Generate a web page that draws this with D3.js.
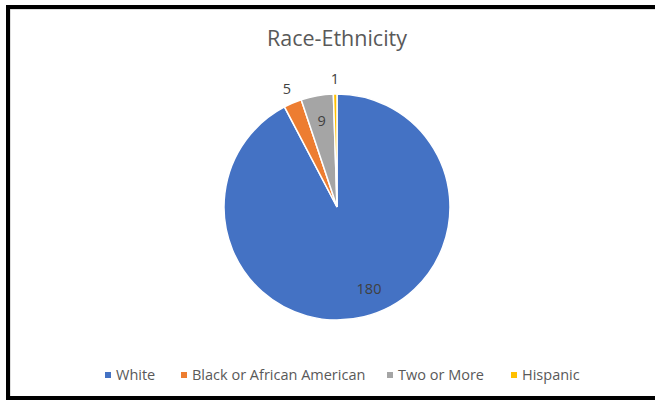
<!DOCTYPE html>
<html>
<head>
<meta charset="utf-8">
<script src="https://cdn.jsdelivr.net/npm/d3@7"></script>
<style>
  body { margin: 0; background: #fff; }
  text { font-family: "Open Sans", "Noto Sans", sans-serif; }
</style>
</head>
<body>
<div id="chart"></div>
<script>
let categories = ["White", "Black or African American", "Two or More", "Hispanic"];
let values = [180, 5, 9, 1];
let colors = ["#4472C4", "#ED7D31", "#A5A5A5", "#FFC000"];

let width = 655, height = 400;
let cx = 337, cy = 207, radius = 113;

let svg = d3.select("#chart").append("svg")
  .attr("width", width)
  .attr("height", height);

// chart frame
svg.append("rect")
  .attr("x", 10).attr("y", 9)
  .attr("width", 660).attr("height", 388)
  .style("fill", "none").style("stroke", "#bfbfbf").style("stroke-width", 1);
svg.append("rect")
  .attr("x", 8).attr("y", 7)
  .attr("width", 660).attr("height", 391)
  .style("fill", "none").style("stroke", "#000").style("stroke-width", 4);

svg.append("text")
  .attr("x", 337).attr("y", 46)
  .attr("text-anchor", "middle")
  .style("font-size", "21.5px")
  .style("fill", "#595959")
  .text("Race-Ethnicity");

let data = categories.map(function (c, i) {
  return { name: c, value: values[i], color: colors[i] };
});

let pie = d3.pie().sort(null).value(function (d) { return d.value; });
let arc = d3.arc().innerRadius(0).outerRadius(radius);
let arcs = pie(data);

let g = svg.append("g").attr("transform", "translate(" + cx + "," + cy + ")");

g.selectAll("path")
  .data(arcs)
  .enter()
  .append("path")
  .attr("d", arc)
  .style("fill", function (d) { return d.data.color; })
  .style("stroke", "#fff")
  .style("stroke-width", 1.5);

// labels: bigger slices inside, tiny ones just outside the rim
function labelPos(d) {
  let mid = (d.startAngle + d.endAngle) / 2;
  let r;
  if (d.data.value > 100) { r = radius * 0.78; mid -= 0.13; }
  else if (d.data.value >= 9) r = radius * 0.77;
  else r = radius + 15;
  return [Math.sin(mid) * r, -Math.cos(mid) * r];
}

g.selectAll("text.lbl")
  .data(arcs)
  .enter()
  .append("text")
  .attr("class", "lbl")
  .attr("x", function (d) { return labelPos(d)[0]; })
  .attr("y", function (d) { return labelPos(d)[1]; })
  .attr("dy", "0.35em")
  .attr("text-anchor", "middle")
  .style("font-size", "14.5px")
  .style("fill", "#404040")
  .text(function (d) { return d.data.value; });

// legend
let legendX = [105, 181, 387, 511];
let legend = svg.selectAll("g.leg")
  .data(data)
  .enter()
  .append("g")
  .attr("class", "leg")
  .attr("transform", function (d, i) { return "translate(" + legendX[i] + ",375)"; });

legend.append("rect")
  .attr("x", 0).attr("y", -3)
  .attr("width", 6).attr("height", 6)
  .style("fill", function (d) { return d.color; });

legend.append("text")
  .attr("x", 11).attr("y", 0)
  .attr("dy", "0.35em")
  .style("font-size", "14.5px")
  .style("fill", "#595959")
  .text(function (d) { return d.name; });
</script>
</body>
</html>
